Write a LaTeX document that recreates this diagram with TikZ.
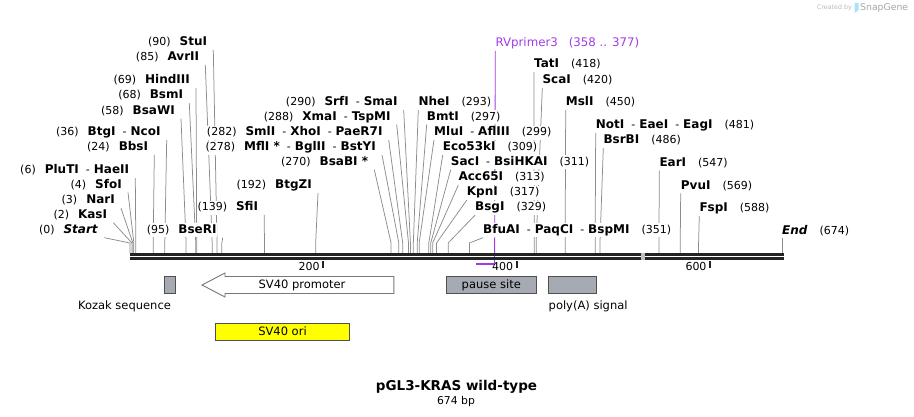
\documentclass[tikz,border=0pt]{standalone}
\usepackage{fontspec}
\setmainfont{DejaVu Sans}
\usetikzlibrary{backgrounds}

\definecolor{leadgray}{RGB}{140,140,140}
\definecolor{bbblack}{RGB}{35,35,35}
\definecolor{featgray}{RGB}{166,170,178}
\definecolor{featedge}{RGB}{80,80,80}
\definecolor{arrowgray}{RGB}{120,120,120}
\definecolor{primer}{RGB}{160,60,230}
\definecolor{oriyellow}{RGB}{255,255,0}

% bp -> x position on the map
\newcommand{\bpx}[1]{130+0.967*#1}
\newcommand{\sitenum}[1]{{\fontsize{11}{13}\selectfont\mdseries(#1)}}
\newcommand{\sitesep}{\hspace{7pt}{\fontsize{11}{13}\selectfont\mdseries-}\hspace{4pt}}

\begin{document}
\begin{tikzpicture}[x=1pt, y=-1pt,
  site/.style={anchor=east, fill=white, inner xsep=0pt, inner ysep=1.5pt,
               text height=8.5pt, text depth=2.5pt,
               font=\fontsize{12}{13}\selectfont\bfseries},
  siter/.style={site, anchor=west},
  leader/.style={draw=leadgray, line width=0.75pt},
  bbone/.style={draw=bbblack, line width=2.4pt},
  tickmark/.style={draw=bbblack, line width=2pt},
  scalelbl/.style={anchor=east, inner sep=0pt, font=\fontsize{11}{13}\selectfont},
  feat/.style={draw=featedge, fill=featgray, line width=0.9pt, inner sep=0pt,
               minimum height=17pt, font=\fontsize{11.5}{13}\selectfont},
  featlbl/.style={font=\fontsize{11.5}{13}\selectfont}]

  \useasboundingbox (0,0) rectangle (914,417);

  % cut sites on the backbone
  \coordinate (c0)   at ({\bpx{0}},253);
  \coordinate (c2)   at ({\bpx{2}},253);
  \coordinate (c3)   at ({\bpx{3}},253);
  \coordinate (c4)   at ({\bpx{4}},253);
  \coordinate (c6)   at ({\bpx{6}},253);
  \coordinate (c24)  at ({\bpx{24}},253);
  \coordinate (c36)  at ({\bpx{36}},253);
  \coordinate (c58)  at ({\bpx{58}},253);
  \coordinate (c68)  at ({\bpx{68}},253);
  \coordinate (c69)  at ({\bpx{69}},253);
  \coordinate (c85)  at ({\bpx{85}},253);
  \coordinate (c90)  at ({\bpx{90}},253);
  \coordinate (c95)  at ({\bpx{95}},253);
  \coordinate (c139) at ({\bpx{139}},253);
  \coordinate (c192) at ({\bpx{192}},253);
  \coordinate (c270) at ({\bpx{270}},253);
  \coordinate (c278) at ({\bpx{278}},253);
  \coordinate (c282) at ({\bpx{282}},253);
  \coordinate (c288) at ({\bpx{288}},253);
  \coordinate (c290) at ({\bpx{290}},253);
  \coordinate (c293) at ({\bpx{293}},253);
  \coordinate (c297) at ({\bpx{297}},253);
  \coordinate (c299) at ({\bpx{299}},253);
  \coordinate (c309) at ({\bpx{309}},253);
  \coordinate (c311) at ({\bpx{311}},253);
  \coordinate (c313) at ({\bpx{313}},253);
  \coordinate (c317) at ({\bpx{317}},253);
  \coordinate (c329) at ({\bpx{329}},253);
  \coordinate (c351) at ({\bpx{351}},253);
  \coordinate (c418) at ({\bpx{418}},253);
  \coordinate (c420) at ({\bpx{420}},253);
  \coordinate (c450) at ({\bpx{450}},253);
  \coordinate (c481) at ({\bpx{481}},253);
  \coordinate (c486) at ({\bpx{486}},253);
  \coordinate (c547) at ({\bpx{547}},253);
  \coordinate (c569) at ({\bpx{569}},253);
  \coordinate (c588) at ({\bpx{588}},253);
  \coordinate (c674) at (782,253);

  % enzymes, labels to the left
  \node[site] (stuI)   at (207.3,42.7)  {\sitenum{90}\hspace{9pt}StuI};
  \node[site] (avrII)  at (199.3,57.7)  {\sitenum{85}\hspace{9pt}AvrII};
  \node[site] (hindIII) at (190,81)     {\sitenum{69}\hspace{9pt}HindIII};
  \node[site] (bsmI)   at (183.3,96)    {\sitenum{68}\hspace{9pt}BsmI};
  \node[site] (bsaWI)  at (175,111.5)   {\sitenum{58}\hspace{9pt}BsaWI};
  \node[site] (btgI)   at (160.7,132.7) {\sitenum{36}\hspace{9pt}BtgI\sitesep NcoI};
  \node[site] (bbsI)   at (148.3,147.7) {\sitenum{24}\hspace{9pt}BbsI};
  \node[site] (pluTI)  at (129.3,171)   {\sitenum{6}\hspace{9pt}PluTI\sitesep HaeII};
  \node[site] (sfoI)   at (122,185.3)   {\sitenum{4}\hspace{9pt}SfoI};
  \node[site] (narI)   at (115,201)     {\sitenum{3}\hspace{9pt}NarI};
  \node[site] (kasI)   at (107.3,215.5) {\sitenum{2}\hspace{9pt}KasI};
  \node[site] (startlbl) at (98.3,230.5) {\sitenum{0}\hspace{9pt}\textit{Start}};
  \node[site] (bseRI)  at (216.7,230.5) {\sitenum{95}\hspace{9pt}BseRI};
  \node[site] (sfiI)   at (258.3,207.7) {\sitenum{139}\hspace{9pt}SfiI};
  \node[site] (btgZI)  at (312,186)     {\sitenum{192}\hspace{9pt}BtgZI};
  \node[site] (bsaBI)  at (368.3,162.5) {\sitenum{270}\hspace{9pt}BsaBI~*};
  \node[site] (mflI)   at (376,147.7)   {\sitenum{278}\hspace{9pt}MflI~*\sitesep BglII\sitesep BstYI};
  \node[site] (smlI)   at (382.7,132.7) {\sitenum{282}\hspace{9pt}SmlI\sitesep XhoI\sitesep PaeR7I};
  \node[site] (xmaI)   at (390.7,117.3) {\sitenum{288}\hspace{9pt}XmaI\sitesep TspMI};
  \node[site] (srfI)   at (397.7,103)   {\sitenum{290}\hspace{9pt}SrfI\sitesep SmaI};

  % enzymes, labels to the right
  \node[siter] (nheI)   at (418.3,103)   {NheI\hspace{12pt}\sitenum{293}};
  \node[siter] (bmtI)   at (426.7,117.3) {BmtI\hspace{12pt}\sitenum{297}};
  \node[siter] (mluI)   at (434,132.7)   {MluI\sitesep AflIII\hspace{12pt}\sitenum{299}};
  \node[siter] (eco53kI) at (442.7,147.7) {Eco53kI\hspace{12pt}\sitenum{309}};
  \node[siter] (sacI)   at (450.7,162.5) {SacI\sitesep BsiHKAI\hspace{12pt}\sitenum{311}};
  \node[siter] (acc65I) at (458.3,178)   {Acc65I\hspace{12pt}\sitenum{313}};
  \node[siter] (kpnI)   at (466.7,193)   {KpnI\hspace{12pt}\sitenum{317}};
  \node[siter] (bsgI)   at (475,208)     {BsgI\hspace{12pt}\sitenum{329}};
  \node[siter] (bfuAI)  at (483,230.5)   {BfuAI\sitesep PaqCI\sitesep BspMI\hspace{12pt}\sitenum{351}};
  \node[siter] (tatI)   at (534,65)      {TatI\hspace{12pt}\sitenum{418}};
  \node[siter] (scaI)   at (542.3,81)    {ScaI\hspace{12pt}\sitenum{420}};
  \node[siter] (mslI)   at (565.7,102.7) {MslI\hspace{12pt}\sitenum{450}};
  \node[siter] (notI)   at (595.7,125.7) {NotI\sitesep EaeI\sitesep EagI\hspace{12pt}\sitenum{481}};
  \node[siter] (bsrBI)  at (603.3,141)   {BsrBI\hspace{12pt}\sitenum{486}};
  \node[siter] (earI)   at (659.3,163.3) {EarI\hspace{12pt}\sitenum{547}};
  \node[siter] (pvuI)   at (680.7,186.3) {PvuI\hspace{12pt}\sitenum{569}};
  \node[siter] (fspI)   at (699.3,208.7) {FspI\hspace{12pt}\sitenum{588}};
  \node[siter] (endlbl) at (782,231)     {\textit{End}\hspace{12pt}\sitenum{674}};

  % primer
  \node[anchor=west, inner sep=0pt, text=primer, font=\fontsize{11.8}{13}\selectfont]
        (rvprim) at (495.3,43) {RVprimer3\hspace{11pt}(358 .. 377)};
  \coordinate (rv1) at ({\bpx{358}},264);
  \coordinate (rv2) at ({\bpx{377}},264);

  % leader lines
  \begin{scope}[on background layer]
    \draw[leader] ([xshift=6pt]stuI.south east)    -- ([yshift=10pt]c90)  -- (c90);
    \draw[leader] ([xshift=6pt]avrII.south east)   -- ([yshift=10pt]c85)  -- (c85);
    \draw[leader] ([xshift=6pt]hindIII.south east) -- ([yshift=10pt]c69)  -- (c69);
    \draw[leader] ([xshift=6pt]bsmI.south east)    -- ([yshift=10pt]c68)  -- (c68);
    \draw[leader] ([xshift=6pt]bsaWI.south east)   -- ([yshift=10pt]c58)  -- (c58);
    \draw[leader] ([xshift=6pt]btgI.south east)    -- ([yshift=10pt]c36)  -- (c36);
    \draw[leader] ([xshift=6pt]bbsI.south east)    -- ([yshift=10pt]c24)  -- (c24);
    \draw[leader] ([xshift=6pt]pluTI.south east)   -- ([yshift=10pt]c6)   -- (c6);
    \draw[leader] ([xshift=6pt]sfoI.south east)    -- ([yshift=10pt]c4)   -- (c4);
    \draw[leader] ([xshift=6pt]narI.south east)    -- ([yshift=10pt]c3)   -- (c3);
    \draw[leader] ([xshift=6pt]kasI.south east)    -- ([yshift=10pt]c2)   -- (c2);
    \draw[leader] ([xshift=6pt]startlbl.south east) -- ([yshift=10pt]c0)  -- (c0);
    \draw[leader] ([xshift=6pt]bseRI.south east)   -- ([yshift=10pt]c95)  -- (c95);
    \draw[leader] ([xshift=6pt]sfiI.south east)    -- ([yshift=10pt]c139) -- (c139);
    \draw[leader] ([xshift=6pt]btgZI.south east)   -- ([yshift=10pt]c192) -- (c192);
    \draw[leader] ([xshift=6pt]bsaBI.south east)   -- ([yshift=10pt]c270) -- (c270);
    \draw[leader] ([xshift=6pt]mflI.south east)    -- ([yshift=10pt]c278) -- (c278);
    \draw[leader] ([xshift=6pt]smlI.south east)    -- ([yshift=10pt]c282) -- (c282);
    \draw[leader] ([xshift=6pt]xmaI.south east)    -- ([yshift=10pt]c288) -- (c288);
    \draw[leader] ([xshift=6pt]srfI.south east)    -- ([yshift=10pt]c290) -- (c290);
    \draw[leader] (nheI.south west)    -- ([yshift=10pt]c293) -- (c293);
    \draw[leader] (bmtI.south west)    -- ([yshift=10pt]c297) -- (c297);
    \draw[leader] (mluI.south west)    -- ([yshift=10pt]c299) -- (c299);
    \draw[leader] (eco53kI.south west) -- ([yshift=10pt]c309) -- (c309);
    \draw[leader] (sacI.south west)    -- ([yshift=10pt]c311) -- (c311);
    \draw[leader] (acc65I.south west)  -- ([yshift=10pt]c313) -- (c313);
    \draw[leader] (kpnI.south west)    -- ([yshift=10pt]c317) -- (c317);
    \draw[leader] (bsgI.south west)    -- ([yshift=10pt]c329) -- (c329);
    \draw[leader] (bfuAI.south west)   -- ([yshift=10pt]c351) -- (c351);
    \draw[leader] (tatI.south west)    -- ([yshift=10pt]c418) -- (c418);
    \draw[leader] (scaI.south west)    -- ([yshift=10pt]c420) -- (c420);
    \draw[leader] (mslI.south west)    -- ([yshift=10pt]c450) -- (c450);
    \draw[leader] (notI.south west)    -- ([yshift=10pt]c481) -- (c481);
    \draw[leader] (bsrBI.south west)   -- ([yshift=10pt]c486) -- (c486);
    \draw[leader] (earI.south west)    -- ([yshift=10pt]c547) -- (c547);
    \draw[leader] (pvuI.south west)    -- ([yshift=10pt]c569) -- (c569);
    \draw[leader] (fspI.south west)    -- ([yshift=10pt]c588) -- (c588);
    \draw[leader] (endlbl.south west)  -- (c674);
    \draw[primer, line width=0.8pt] ([yshift=-2pt]rvprim.south west) -- (rv2);
  \end{scope}

  % backbone
  \draw[bbone] (130,254.5) -- (784,254.5);
  \draw[bbone] (130,258.7) -- (784,258.7);
  \fill[gray!50] (640.5,253.2) rectangle (645,260);
  \draw[primer, line width=2pt] (rv1) -- (rv2);

  % scale
  \draw[tickmark] ({\bpx{200}},261) -- ({\bpx{200}},268);
  \draw[tickmark] ({\bpx{400}},261) -- ({\bpx{400}},268);
  \draw[tickmark] ({\bpx{600}},261) -- ({\bpx{600}},268);
  \node[scalelbl] (t200) at ({\bpx{200}-3.5},266.5) {200};
  \node[scalelbl] (t400) at ({\bpx{400}-3.5},266.5) {400};
  \node[scalelbl] (t600) at ({\bpx{600}-3.5},266.5) {600};

  % features
  \node[feat, minimum width=11pt] (kozak) at (170,285) {};
  \node[featlbl] (kozaklbl) at (124.5,306) {Kozak sequence};
  \draw[draw=arrowgray, fill=white, line width=0.9pt]
        (202,285) -- (225,273) -- (225,276.5) -- (393.8,276.5) -- (393.8,293.5)
        -- (225,293.5) -- (225,297) -- cycle;
  \node[featlbl] (promlbl) at (302,285) {SV40 promoter};
  \node[feat, minimum width=89.5pt] (pause) at (491.3,285) {pause site};
  \node[feat, minimum width=48pt] (polya) at (572.5,285) {};
  \node[featlbl, anchor=west, inner xsep=0pt] (polyalbl) at (548.5,306) {poly(A) signal};
  \node[feat, fill=oriyellow, minimum width=133.4pt] (ori) at (282.5,331.5) {SV40 ori};

  % title
  \node[font=\fontsize{13.5}{16}\selectfont\bfseries] (title) at (456.5,386.5) {pGL3-KRAS wild-type};
  \node[font=\fontsize{10.8}{12}\selectfont] (size) at (456,402) {674 bp};

  % watermark
  \node[anchor=east, inner sep=0pt, text=gray!55, font=\fontsize{6.3}{7}\selectfont]
        (madeby) at (852,8) {Created by};
  \fill[cyan!35] (854.5,3) -- (858.5,3) -- (858.5,10) -- (854.5,13) -- cycle;
  \node[anchor=west, inner sep=0pt, text=gray!70, font=\fontsize{9.3}{10}\selectfont]
        (snapgene) at (860,8) {SnapGene};
\end{tikzpicture}
\end{document}
